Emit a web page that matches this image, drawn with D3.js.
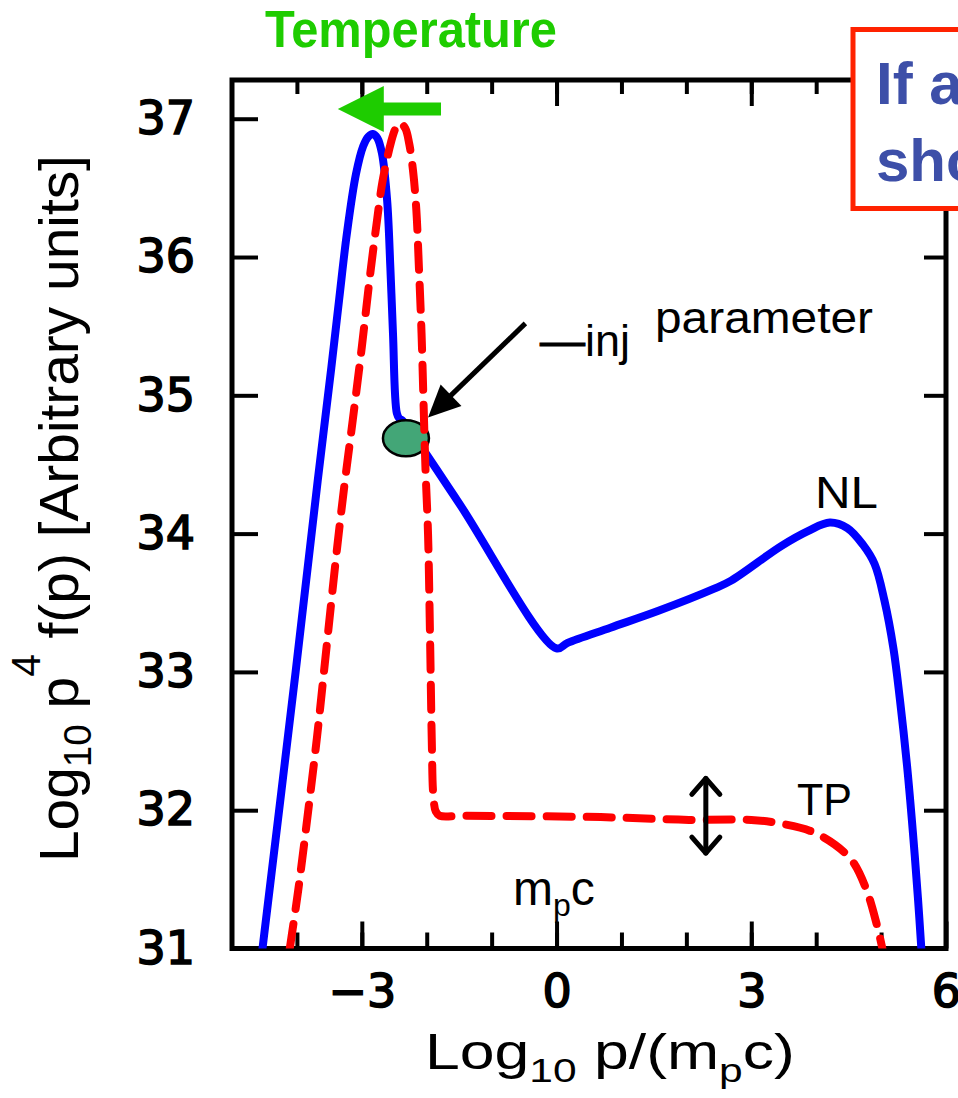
<!DOCTYPE html>
<html>
<head>
<meta charset="utf-8">
<script src="https://cdn.jsdelivr.net/npm/d3@7"></script>
<style>
  html, body { margin: 0; padding: 0; background: #fff; overflow: hidden; }
  svg { display: block; }
</style>
</head>
<body>
<svg id="chart" width="958" height="1098"></svg>
<script>
// Nonlinear (NL) spectrum: log10 p/(mp c) vs log10 p^4 f(p)
const nlX = [-4.53, -4.02, -3.68, -3.47, -3.35, -3.23, -3.09, -2.98, -2.90, -2.83, -2.76, -2.69,
             -2.61, -2.56, -2.52, -2.46, -2.42, -2.38, -1.53, 0.00, 0.17, 0.83, 1.56, 2.42, 2.69,
             3.46, 3.88, 4.21, 4.48, 4.72, 4.90, 5.05, 5.19, 5.29, 5.40, 5.49, 5.57, 5.62];
const nlY = [31.00, 33.00, 34.38, 35.20, 35.69, 36.17, 36.60, 36.80, 36.87, 36.89, 36.86, 36.75,
             36.41, 35.92, 35.45, 34.87, 34.83, 34.82, 34.24, 33.17, 33.21, 33.32, 33.44, 33.60, 33.66,
             33.91, 34.02, 34.08, 34.04, 33.92, 33.78, 33.52, 33.17, 32.80, 32.32, 31.84, 31.35, 31.00];

// Test-particle (TP) spectrum
const tpX = [-4.11, -3.98, -3.83, -3.69, -3.57, -3.38, -3.26, -3.14, -3.00, -2.87, -2.77, -2.68,
             -2.55, -2.48, -2.41, -2.33, -2.27, -2.21, -2.16, -2.12, -2.08, -2.05, -2.02, -1.98,
             -1.95, -1.92, -1.90, -1.86, -1.80, -1.44, 0.68, 2.04, 3.00, 3.49, 3.91, 4.29, 4.56,
             4.77, 4.93, 5.02];
const tpY = [31.00, 31.42, 31.98, 32.53, 33.06, 33.90, 34.38, 34.82, 35.35, 35.88, 36.25, 36.55,
             36.83, 36.93, 36.97, 36.93, 36.82, 36.62, 36.34, 35.92, 35.45, 34.96, 34.48, 34.00,
             33.28, 32.45, 32.12, 31.99, 31.96, 31.96, 31.95, 31.93, 31.93, 31.90, 31.85, 31.75, 31.63,
             31.43, 31.18, 31.00];

// Axis ticks
const xMinorTicks = [-4, -3, -2, -1, 0, 1, 2, 3, 4, 5];
const xMajorTicks = [-3, 0, 3, 6];
const yTicks = [31, 32, 33, 34, 35, 36, 37];

// Annotation anchors (data units)
const injPoint = { x: -2.32, y: 34.69 };
const injArrowFrom = { x: -0.48, y: 35.52 };
const injArrowTo = { x: -1.98, y: 34.84 };
const tempArrow = { x0: -1.78, x1: -3.37, y: 37.07 };
const tpSpread = { x: 2.30, y0: 32.23, y1: 31.69 };

const svg = d3.select("#chart");

const x = d3.scaleLinear().domain([-5, 6]).range([232, 946]);
const y = d3.scaleLinear().domain([31, 37.28]).range([948.5, 80]);

const [xl, xr] = x.range();
const [yb, yt] = y.range();

const tickFont = "'DejaVu Sans', sans-serif";
const labelFont = "'Liberation Sans', Arial, Helvetica, sans-serif";
const narrowFont = "'Liberation Sans Narrow', 'Liberation Sans', Arial, sans-serif";

// clip region for curves
svg.append("defs").append("clipPath").attr("id", "plotClip")
  .append("rect").attr("x", xl).attr("y", yt).attr("width", xr - xl).attr("height", yb - yt);

function styleAxis(g) {
  g.select(".domain").remove();
  g.selectAll(".tick line").attr("stroke", "#000").attr("stroke-width", 4);
  g.selectAll(".tick text").attr("fill", "#000").attr("font-family", tickFont)
    .attr("font-size", 46).attr("stroke", "#000").attr("stroke-width", 1.6);
}

const fmt = d => d < 0 ? "\u2212" + (-d) : String(d);

// bottom axis
svg.append("g").attr("transform", `translate(0,${yb})`)
  .call(d3.axisBottom(x).tickValues(xMinorTicks).tickSize(-16).tickFormat(""))
  .call(styleAxis);
svg.append("g").attr("transform", `translate(0,${yb})`)
  .call(d3.axisBottom(x).tickValues(xMajorTicks).tickSize(-27).tickPadding(26).tickFormat(fmt))
  .call(styleAxis);

// top axis
svg.append("g").attr("transform", `translate(0,${yt})`)
  .call(d3.axisTop(x).tickValues(xMinorTicks).tickSize(-14).tickFormat(""))
  .call(styleAxis);
svg.append("g").attr("transform", `translate(0,${yt})`)
  .call(d3.axisTop(x).tickValues(xMajorTicks.filter(d => d < 6)).tickSize(-26).tickFormat(""))
  .call(styleAxis);

// left axis
svg.append("g").attr("transform", `translate(${xl},0)`)
  .call(d3.axisLeft(y).tickValues(yTicks).tickSize(-26).tickPadding(37).tickFormat(d3.format("d")))
  .call(styleAxis);

// right axis
svg.append("g").attr("transform", `translate(${xr},0)`)
  .call(d3.axisRight(y).tickValues(yTicks).tickSize(-22).tickFormat(""))
  .call(styleAxis);

// frame
svg.append("rect").attr("x", xl).attr("y", yt).attr("width", xr - xl).attr("height", yb - yt)
  .attr("fill", "none").attr("stroke", "#000").attr("stroke-width", 5);

const line = d3.line().x(d => x(d[0])).y(d => y(d[1])).curve(d3.curveCatmullRom.alpha(0.5));

const curves = svg.append("g").attr("clip-path", "url(#plotClip)");

// NL curve
curves.append("path").datum(d3.zip(nlX, nlY)).attr("d", line)
  .attr("fill", "none").attr("stroke", "#0000FF").attr("stroke-width", 8)
  .attr("stroke-linejoin", "round").attr("stroke-linecap", "round");

// injection point
curves.append("ellipse").attr("cx", x(injPoint.x)).attr("cy", y(injPoint.y))
  .attr("rx", 23).attr("ry", 18).attr("fill", "#43A677").attr("stroke", "#000").attr("stroke-width", 2.5);

// TP curve
curves.append("path").datum(d3.zip(tpX, tpY)).attr("d", line)
  .attr("fill", "none").attr("stroke", "#FF0000").attr("stroke-width", 8)
  .attr("stroke-dasharray", "25 15").attr("stroke-linecap", "round");

// arrow to injection point
{
  const x0 = x(injArrowFrom.x), y0 = y(injArrowFrom.y), x1 = x(injArrowTo.x), y1 = y(injArrowTo.y);
  const dx = x1 - x0, dy = y1 - y0, L = Math.hypot(dx, dy), ux = dx / L, uy = dy / L;
  const hl = 32, hw = 15;
  const bx = x1 - ux * hl, by = y1 - uy * hl;
  svg.append("line").attr("x1", x0).attr("y1", y0).attr("x2", bx + ux * 2).attr("y2", by + uy * 2)
    .attr("stroke", "#000").attr("stroke-width", 5);
  svg.append("path").attr("d", d3.line()([[x1, y1], [bx - uy * hw, by + ux * hw], [bx + uy * hw, by - ux * hw]]) + "Z")
    .attr("fill", "#000");
}

// temperature arrow
{
  const xt = x(tempArrow.x0), xh = x(tempArrow.x1), yc = y(tempArrow.y);
  const headLen = 46, headHalf = 23, shaftHalf = 6.5;
  const xb = xh + headLen;
  svg.append("path").attr("d", d3.line()([
    [xh, yc], [xb, yc - headHalf], [xb, yc - shaftHalf], [xt, yc - shaftHalf],
    [xt, yc + shaftHalf], [xb, yc + shaftHalf], [xb, yc + headHalf]
  ]) + "Z").attr("fill", "#1ECC00");
}

// double-headed arrow on TP plateau
{
  const xc = x(tpSpread.x), ya = y(tpSpread.y0), yb2 = y(tpSpread.y1), a = 14;
  const g = svg.append("g").attr("stroke", "#000").attr("stroke-width", 5)
    .attr("fill", "none").attr("stroke-linecap", "round").attr("stroke-linejoin", "round");
  g.append("line").attr("x1", xc).attr("y1", ya).attr("x2", xc).attr("y2", yb2);
  g.append("path").attr("d", d3.line()([[xc - a, ya + a + 2], [xc, ya], [xc + a, ya + a + 2]]));
  g.append("path").attr("d", d3.line()([[xc - a, yb2 - a - 2], [xc, yb2], [xc + a, yb2 - a - 2]]));
}

// in-plot labels
{
  const t = svg.append("text").attr("x", 540).attr("y", 356).attr("font-family", labelFont).attr("font-size", 45);
  t.append("tspan").attr("stroke", "#000").attr("stroke-width", 1).text("\u2014");
  t.append("tspan").text("inj");
}
svg.append("text").attr("x", 655).attr("y", 333).attr("font-family", labelFont).attr("font-size", 44)
  .attr("textLength", 218).attr("lengthAdjust", "spacingAndGlyphs").text("parameter");
svg.append("text").attr("x", 815).attr("y", 508).attr("font-family", labelFont).attr("font-size", 44)
  .attr("textLength", 63).attr("lengthAdjust", "spacingAndGlyphs").text("NL");
svg.append("text").attr("x", 797).attr("y", 815).attr("font-family", labelFont).attr("font-size", 44)
  .attr("textLength", 55).attr("lengthAdjust", "spacingAndGlyphs").text("TP");
{
  const t = svg.append("text").attr("x", 513).attr("y", 905).attr("font-family", labelFont).attr("font-size", 48);
  t.append("tspan").text("m");
  t.append("tspan").attr("font-size", 32).attr("dy", 11).text("p");
  t.append("tspan").attr("dy", -11).text("c");
}

// Temperature label
svg.append("text").attr("x", 557).attr("y", 47).attr("text-anchor", "end")
  .attr("font-family", labelFont).attr("font-weight", "bold").attr("font-size", 52)
  .attr("textLength", 292).attr("lengthAdjust", "spacingAndGlyphs")
  .attr("fill", "#1ECC00").text("Temperature");

// boxed note
svg.append("rect").attr("x", 853).attr("y", 29.5).attr("width", 200).attr("height", 179)
  .attr("fill", "#fff").attr("stroke", "#FF2200").attr("stroke-width", 5);
svg.append("text").attr("x", 876).attr("y", 104).attr("font-family", labelFont).attr("font-weight", "bold")
  .attr("font-size", 60).attr("fill", "#3D4FA8").text("If a");
svg.append("text").attr("x", 876).attr("y", 181).attr("font-family", labelFont).attr("font-weight", "bold")
  .attr("font-size", 60).attr("fill", "#3D4FA8").text("sho");

// axis titles, squeezed horizontally to their measured span
function fitText(t, target) {
  const w = t.node().getBBox().width;
  return w > 0 ? target / w : 1;
}

{
  const t = svg.append("text").attr("font-family", narrowFont).attr("font-size", 50).attr("fill", "#000");
  t.append("tspan").text("Log");
  t.append("tspan").attr("font-size", 34).attr("dy", 13).text("10");
  t.append("tspan").attr("dy", -13).text(" p/(m");
  t.append("tspan").attr("font-size", 34).attr("dy", 13).text("p");
  t.append("tspan").attr("dy", -13).text("c)");
  const k = fitText(t, 370);
  t.attr("transform", `translate(425,1069) scale(${k},1)`);
}

{
  const t = svg.append("text").attr("font-family", narrowFont).attr("font-size", 56).attr("fill", "#000");
  t.append("tspan").text("Log");
  t.append("tspan").attr("font-size", 38).attr("dy", 13).text("10");
  t.append("tspan").attr("dy", -13).text(" p");
  t.append("tspan").attr("font-size", 40).attr("dy", -38).text("4");
  t.append("tspan").attr("dy", 38).text(" f(p) [Arbitrary units]");
  const k = fitText(t, 707);
  t.attr("transform", `translate(78,862) rotate(-90) scale(${k},1)`);
}
</script>
</body>
</html>
